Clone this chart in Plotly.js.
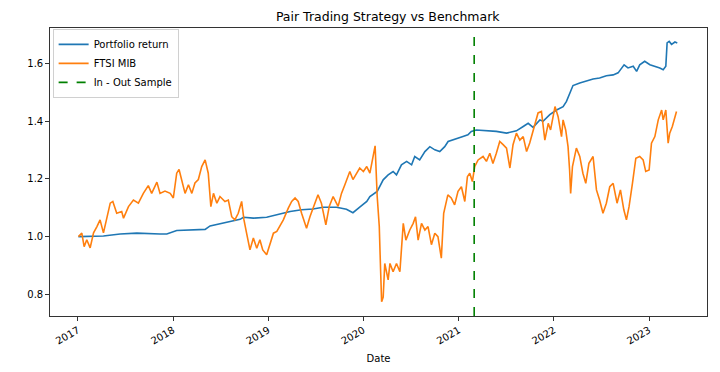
<!DOCTYPE html>
<html>
<head>
<meta charset="utf-8">
<script src="https://cdn.plot.ly/plotly-3.0.1.min.js"></script>
<style>html,body{margin:0;padding:0;background:#fff;}#chart{width:720px;height:372px;}</style>
</head>
<body>
<div id="chart"></div>
<script>
// Portfolio return (blue)
var portfolioDates = ["2017-01-03","2017-04-09","2017-06-12","2017-08-15","2017-11-12","2017-12-08","2018-01-15","2018-03-07","2018-05-04","2018-05-23","2018-06-30","2018-08-08","2018-09-15","2018-09-28","2018-11-05","2018-12-26","2019-02-03","2019-03-26","2019-05-09","2019-06-22","2019-07-30","2019-09-20","2019-10-28","2019-11-22","2019-12-18","2020-01-14","2020-01-26","2020-02-23","2020-03-17","2020-04-05","2020-04-24","2020-05-07","2020-05-26","2020-06-15","2020-07-04","2020-07-16","2020-08-04","2020-08-24","2020-09-12","2020-10-01","2020-10-20","2020-11-08","2020-11-21","2020-12-10","2020-12-29","2021-01-17","2021-02-05","2021-02-18","2021-03-09","2021-04-17","2021-05-25","2021-07-03","2021-08-10","2021-09-05","2021-09-24","2021-10-13","2021-11-08","2021-11-20","2021-12-16","2022-01-11","2022-02-05","2022-02-18","2022-03-02","2022-03-15","2022-04-10","2022-05-05","2022-05-31","2022-06-25","2022-07-21","2022-08-16","2022-09-04","2022-09-27","2022-10-12","2022-11-01","2022-11-14","2022-11-26","2022-12-15","2023-01-04","2023-01-23","2023-02-11","2023-02-24","2023-03-06","2023-03-11","2023-03-19","2023-03-28","2023-04-10","2023-04-19"];
var portfolioValues = [1.000,1.002,1.009,1.012,1.009,1.009,1.021,1.023,1.025,1.037,1.044,1.053,1.060,1.067,1.064,1.067,1.076,1.087,1.093,1.096,1.102,1.102,1.095,1.083,1.102,1.122,1.139,1.157,1.197,1.214,1.226,1.214,1.249,1.261,1.249,1.278,1.266,1.295,1.312,1.301,1.295,1.312,1.330,1.335,1.342,1.347,1.353,1.365,1.370,1.367,1.365,1.359,1.367,1.382,1.393,1.379,1.405,1.400,1.423,1.439,1.451,1.469,1.498,1.524,1.533,1.541,1.547,1.550,1.558,1.561,1.568,1.596,1.585,1.591,1.573,1.596,1.608,1.596,1.591,1.585,1.579,1.591,1.672,1.677,1.667,1.675,1.672];

// FTSI MIB (orange)
var mibDates = ["2017-01-03","2017-01-16","2017-01-25","2017-02-04","2017-02-17","2017-03-02","2017-03-15","2017-03-27","2017-04-09","2017-04-22","2017-05-05","2017-05-15","2017-05-30","2017-06-18","2017-06-25","2017-07-14","2017-08-02","2017-08-21","2017-09-09","2017-09-28","2017-10-11","2017-10-31","2017-11-12","2017-12-01","2017-12-21","2018-01-02","2018-01-15","2018-01-24","2018-02-03","2018-02-16","2018-03-01","2018-03-14","2018-03-26","2018-04-08","2018-04-21","2018-05-04","2018-05-16","2018-05-26","2018-06-05","2018-06-18","2018-06-30","2018-07-19","2018-08-01","2018-08-14","2018-08-26","2018-09-08","2018-09-21","2018-09-30","2018-10-10","2018-10-23","2018-11-05","2018-11-18","2018-11-30","2018-12-11","2018-12-26","2019-01-08","2019-01-21","2019-02-03","2019-02-15","2019-02-28","2019-03-19","2019-04-01","2019-04-14","2019-04-26","2019-05-09","2019-05-28","2019-06-10","2019-06-22","2019-07-11","2019-07-24","2019-08-10","2019-08-23","2019-09-07","2019-09-26","2019-10-09","2019-10-22","2019-11-10","2019-11-22","2019-12-05","2019-12-18","2020-01-01","2020-01-14","2020-01-26","2020-02-08","2020-02-15","2020-02-23","2020-03-02","2020-03-07","2020-03-11","2020-03-17","2020-03-23","2020-04-05","2020-04-12","2020-04-24","2020-05-07","2020-05-20","2020-05-26","2020-06-02","2020-06-12","2020-06-27","2020-07-10","2020-07-19","2020-07-29","2020-08-11","2020-08-24","2020-09-05","2020-09-18","2020-10-01","2020-10-13","2020-10-26","2020-11-04","2020-11-20","2020-12-03","2020-12-16","2020-12-29","2021-01-11","2021-01-24","2021-02-03","2021-02-12","2021-02-22","2021-03-03","2021-03-16","2021-04-04","2021-04-17","2021-04-30","2021-05-12","2021-05-25","2021-06-07","2021-06-20","2021-07-03","2021-07-16","2021-07-28","2021-08-10","2021-08-23","2021-09-05","2021-09-18","2021-09-30","2021-10-13","2021-11-01","2021-11-14","2021-11-27","2021-12-10","2021-12-19","2022-01-05","2022-01-17","2022-01-30","2022-02-05","2022-02-15","2022-02-24","2022-03-02","2022-03-06","2022-03-13","2022-03-28","2022-04-10","2022-04-22","2022-05-03","2022-05-15","2022-05-31","2022-06-13","2022-06-25","2022-07-08","2022-07-21","2022-08-03","2022-08-16","2022-08-31","2022-09-13","2022-09-26","2022-10-06","2022-10-16","2022-10-29","2022-11-11","2022-11-26","2022-12-09","2022-12-19","2023-01-01","2023-01-10","2023-01-23","2023-02-05","2023-02-18","2023-02-24","2023-03-06","2023-03-15","2023-03-21","2023-03-31","2023-04-16"];
var mibValues = [1.000,1.012,0.965,0.989,0.961,1.013,1.035,1.058,1.013,1.069,1.116,1.122,1.081,1.087,1.064,1.104,1.127,1.116,1.150,1.177,1.150,1.189,1.150,1.158,1.150,1.134,1.220,1.233,1.198,1.150,1.180,1.150,1.186,1.198,1.243,1.266,1.220,1.104,1.150,1.116,1.139,1.122,1.127,1.069,1.058,1.081,1.122,1.058,1.012,0.954,0.995,0.960,0.989,0.954,0.937,0.972,1.012,1.018,1.040,1.058,1.099,1.122,1.134,1.122,1.081,1.029,1.069,1.099,1.145,1.116,1.041,1.105,1.139,1.105,1.150,1.180,1.226,1.198,1.220,1.238,1.226,1.243,1.220,1.278,1.315,1.139,1.035,0.884,0.774,0.790,0.907,0.850,0.907,0.878,0.907,0.878,0.954,1.046,0.988,1.023,1.046,1.069,0.988,1.046,1.023,1.035,0.972,1.012,1.000,0.925,1.081,1.145,1.134,1.110,1.157,1.173,1.122,1.208,1.220,1.191,1.243,1.266,1.278,1.261,1.289,1.254,1.289,1.330,1.319,1.307,1.238,1.319,1.359,1.335,1.347,1.295,1.325,1.370,1.429,1.434,1.335,1.393,1.370,1.451,1.416,1.347,1.405,1.370,1.312,1.231,1.150,1.243,1.307,1.278,1.220,1.185,1.254,1.278,1.162,1.127,1.081,1.116,1.173,1.185,1.116,1.162,1.093,1.058,1.104,1.185,1.272,1.278,1.266,1.226,1.231,1.324,1.347,1.405,1.439,1.405,1.439,1.324,1.359,1.382,1.434];

// In / out of sample split
var splitDate = "2021-03-01";
var yTickVals = [0.8, 1.0, 1.2, 1.4, 1.6];

var font = {family: "DejaVu Sans, sans-serif", size: 10, color: "#000"};

var traces = [
  {x: portfolioDates, y: portfolioValues, type: "scatter", mode: "lines", name: "Portfolio return",
   line: {color: "#1f77b4", width: 1.6}},
  {x: mibDates, y: mibValues, type: "scatter", mode: "lines", name: "FTSI MIB",
   line: {color: "#ff7f0e", width: 1.6}},
  {x: [splitDate, splitDate], y: [0, 1], yaxis: "y2", type: "scatter", mode: "lines", name: "In - Out Sample",
   line: {color: "#008000", width: 1.6, dash: "dash"}, hoverinfo: "skip"}
];

var layout = {
  width: 720, height: 372,
  margin: {l: 50, r: 13, t: 28, b: 56},
  paper_bgcolor: "#fff", plot_bgcolor: "#fff",
  font: font,
  showlegend: true,
  title: {text: "Pair Trading Strategy vs Benchmark", font: {family: "DejaVu Sans, sans-serif", size: 12.5, color: "#000"},
          x: 0.5385, xanchor: "center", y: 0.955, yanchor: "middle"},
  xaxis: {
    type: "date",
    range: ["2016-09-16", "2023-08-11"],
    dtick: "M12", tick0: "2017-01-01", tickformat: "%Y", tickangle: -30,
    ticks: "outside", ticklen: 4, tickwidth: 0.8, tickcolor: "#000",
    showline: true, linecolor: "#000", linewidth: 0.8, mirror: true,
    showgrid: false, zeroline: false,
    tickfont: font,
    title: {text: "Date", font: font, standoff: 9}
  },
  yaxis: {
    range: [0.7247, 1.7236],
    tickvals: yTickVals, tickformat: ".1f",
    ticks: "outside", ticklen: 4, tickwidth: 0.8, tickcolor: "#000",
    showline: true, linecolor: "#000", linewidth: 0.8, mirror: true,
    showgrid: false, zeroline: false,
    tickfont: font
  },
  yaxis2: {overlaying: "y", range: [0, 1], visible: false, fixedrange: true},
  legend: {
    x: 0.004, y: 0.997, xanchor: "left", yanchor: "top",
    bgcolor: "rgba(255,255,255,0.8)", bordercolor: "#d0d0d0", borderwidth: 1,
    font: font, itemwidth: 30, tracegroupgap: 0
  }
};

Plotly.newPlot("chart", traces, layout, {displayModeBar: false, staticPlot: true});
</script>
</body>
</html>
